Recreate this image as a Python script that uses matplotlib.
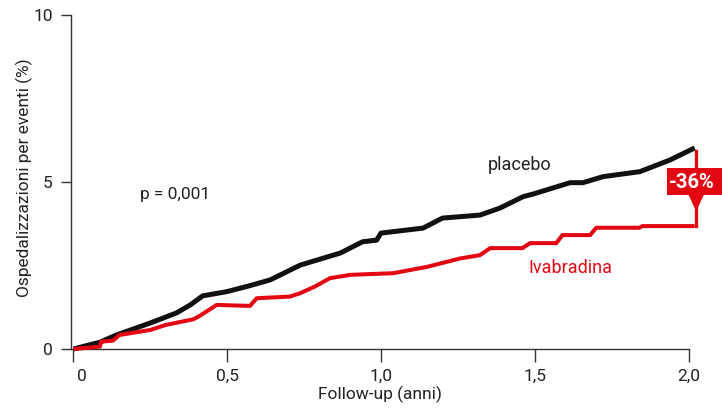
import matplotlib
matplotlib.use("Agg")
import matplotlib.pyplot as plt
from matplotlib.patches import Polygon, Rectangle
from matplotlib.transforms import ScaledTranslation

plt.rcParams['font.family'] = ['Roboto', 'DejaVu Sans']

# Placebo (black) curve
placebo_x = [0.0, 0.05, 0.085, 0.14, 0.25, 0.335, 0.38, 0.42, 0.5, 0.575, 0.64,
             0.737, 0.834, 0.867, 0.94, 0.986, 1.0, 1.137, 1.2, 1.322, 1.387,
             1.462, 1.495, 1.615, 1.657, 1.722, 1.842, 1.94, 2.02]
placebo_y = [0.0, 0.12, 0.2, 0.42, 0.78, 1.08, 1.32, 1.59, 1.72, 1.9, 2.07,
             2.51, 2.78, 2.87, 3.21, 3.26, 3.47, 3.62, 3.92, 4.01, 4.22,
             4.56, 4.64, 4.98, 4.98, 5.16, 5.31, 5.66, 6.02]

# Ivabradina (red) curve
ivab_x = [0.0, 0.086, 0.09, 0.128, 0.15, 0.25, 0.30, 0.39, 0.41, 0.466, 0.574,
          0.596, 0.704, 0.737, 0.785, 0.834, 0.90, 1.04, 1.15, 1.257, 1.322,
          1.355, 1.46, 1.485, 1.57, 1.59, 1.68, 1.70, 1.84, 1.85, 2.02]
ivab_y = [0.0, 0.07, 0.22, 0.25, 0.42, 0.57, 0.72, 0.89, 0.99, 1.32, 1.29,
          1.52, 1.57, 1.67, 1.87, 2.12, 2.22, 2.27, 2.46, 2.71, 2.81,
          3.02, 3.02, 3.17, 3.17, 3.41, 3.41, 3.63, 3.63, 3.68, 3.68]

x_ticks = [0, 0.5, 1.0, 1.5, 2.0]
x_ticklabels = ['0', '0,5', '1,0', '1,5', '2,0']
y_ticks = [0, 5, 10]
y_ticklabels = ['0', '5', '10']
reduction_label = '-36%'

RED = '#e30613'

fig = plt.figure(figsize=(7.22, 4.11), dpi=100)
ax = fig.add_axes([71/722, 62/411, 617.5/722, 334/411])
ax.set_xlim(-0.008, 2.0)
ax.set_ylim(0, 10)

for s in ['top', 'right']:
    ax.spines[s].set_visible(False)
for s in ['left', 'bottom']:
    ax.spines[s].set_color('#333333')
    ax.spines[s].set_linewidth(1.0)

ax.plot(placebo_x, placebo_y, color='#111111', lw=3.6, clip_on=False,
        solid_capstyle='butt', zorder=3)
ax.plot(ivab_x, ivab_y, color=RED, lw=2.9, clip_on=False,
        solid_capstyle='butt', zorder=4)

ax.set_xticks(x_ticks)
ax.set_xticklabels(x_ticklabels)
ax.set_yticks(y_ticks)
ax.set_yticklabels(y_ticklabels)
ax.tick_params(axis='x', direction='out', length=9.4, width=1.0, color='#333333',
               pad=5, labelsize=12.5, labelcolor='#222222')
ax.tick_params(axis='y', direction='out', length=7.2, width=1.0, color='#333333',
               pad=6, labelsize=12.5, labelcolor='#222222')
lab0 = ax.get_xticklabels()[0]
lab0.set_transform(lab0.get_transform() + ScaledTranslation(8/100, 0, fig.dpi_scale_trans))

ax.set_xlabel('Follow-up (anni)', fontsize=12.5, color='#222222', labelpad=1)
ax.set_ylabel('Ospedalizzazioni per eventi (%)', fontsize=12.5, color='#222222')
ax.yaxis.set_label_coords(-0.0615, 0.512)

ax.text(1.452, 5.51, 'placebo', fontsize=13, color='#222222', ha='center', va='center')
ax.text(1.615, 2.43, 'Ivabradina', fontsize=13, color=RED, ha='center', va='center')
ax.text(0.33, 4.64, 'p = 0,001', fontsize=12.5, color='#222222', ha='center', va='center')

# -36% callout
xe = placebo_x[-1] + 0.005
ax.plot([xe, xe], [placebo_y[-1] - 0.1, ivab_y[-1]], color=RED, lw=2.4,
        clip_on=False, zorder=5)
box = Rectangle((1.93, 4.61), 0.2, 0.81, facecolor=RED, edgecolor='none',
                clip_on=False, zorder=6)
ax.add_patch(box)
tri = Polygon([[xe - 0.025, 4.62], [xe + 0.025, 4.62], [xe, 4.12]], closed=True,
              facecolor=RED, edgecolor='none', clip_on=False, zorder=6)
ax.add_patch(tri)
ax.text(2.01, 5.0, reduction_label, fontsize=14.5, color='white', fontweight='bold',
        ha='center', va='center', zorder=7, clip_on=False)

fig.savefig('out.png', dpi=100)
